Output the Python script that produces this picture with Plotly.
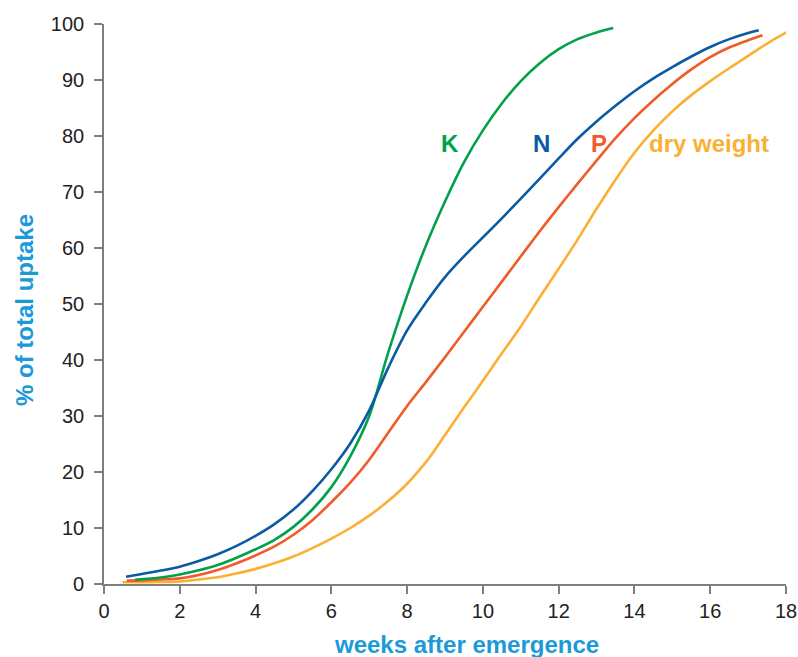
import plotly.graph_objects as go

# ---- data ----
n_x = [0.58, 1.0, 1.5, 2.0, 2.5, 3.0, 3.5, 4.0, 4.5, 5.0, 5.5, 6.0, 6.5, 7.0, 7.5, 8.0, 8.5, 9.0, 9.5, 10.0,
       10.5, 11.0, 11.5, 12.0, 12.5, 13.0, 13.5, 14.0, 14.5, 15.0, 15.5, 16.0, 16.5, 17.0, 17.28]
n_y = [1.3, 1.8, 2.4, 3.1, 4.1, 5.3, 6.8, 8.6, 10.7, 13.3, 16.6, 20.5, 25.1, 31.0, 38.6, 45.3, 50.3, 54.8, 58.5, 61.9,
       65.3, 68.8, 72.4, 76.0, 79.5, 82.6, 85.4, 88.0, 90.3, 92.3, 94.2, 95.9, 97.3, 98.4, 98.9]

k_x = [0.82, 1.5, 2.0, 2.5, 3.0, 3.5, 4.0, 4.5, 5.0, 5.5, 6.0, 6.5, 7.0, 7.5, 8.0, 8.5, 9.0, 9.5, 10.0,
       10.5, 11.0, 11.5, 12.0, 12.5, 13.0, 13.44]
k_y = [0.75, 1.15, 1.7, 2.45, 3.4, 4.7, 6.2, 7.9, 10.2, 13.3, 17.3, 22.8, 30.0, 41.3, 51.5, 60.5, 68.3, 75.3, 81.0,
       85.8, 89.8, 93.0, 95.5, 97.3, 98.5, 99.3]

p_x = [0.6, 1.0, 1.5, 2.0, 2.5, 3.0, 3.5, 4.0, 4.5, 5.0, 5.5, 6.0, 6.5, 7.0, 7.5, 8.0, 8.5, 9.0, 9.5, 10.0,
       10.5, 11.0, 11.5, 12.0, 12.5, 13.0, 13.5, 14.0, 14.5, 15.0, 15.5, 16.0, 16.5, 17.0, 17.38]
p_y = [0.6, 0.65, 0.8, 1.0, 1.6, 2.5, 3.7, 5.1, 6.7, 8.8, 11.4, 14.6, 18.1, 22.2, 27.0, 31.8, 36.1, 40.5, 45.0, 49.5,
       54.0, 58.5, 63.0, 67.3, 71.5, 75.6, 79.6, 83.2, 86.4, 89.3, 91.9, 94.1, 95.8, 97.1, 98.0]

dw_x = [0.49, 1.0, 1.5, 2.0, 2.5, 3.0, 3.5, 4.0, 4.5, 5.0, 5.5, 6.0, 6.5, 7.0, 7.5, 8.0, 8.5, 9.0, 9.5, 10.0,
        10.5, 11.0, 11.5, 12.0, 12.5, 13.0, 13.5, 14.0, 14.5, 15.0, 15.5, 16.0, 16.5, 17.0, 17.5, 18.01]
dw_y = [0.3, 0.3, 0.35, 0.45, 0.8, 1.2, 1.9, 2.7, 3.7, 4.9, 6.4, 8.1, 10.0, 12.2, 14.8, 17.9, 21.8, 26.6, 31.5, 36.3,
        41.2, 46.0, 51.2, 56.3, 61.5, 67.0, 72.2, 77.0, 81.0, 84.4, 87.3, 89.8, 92.1, 94.3, 96.5, 98.5]

series_names = ["K", "N", "P", "dry weight"]
label_x = [9.14, 11.55, 13.07, 15.96]
label_y = [78.7, 78.7, 78.7, 78.7]

x_ticks = [0, 2, 4, 6, 8, 10, 12, 14, 16, 18]
y_ticks = [0, 10, 20, 30, 40, 50, 60, 70, 80, 90, 100]

x_title = "weeks after emergence"
y_title = "% of total uptake"

colors = {"K": "#00A14B", "N": "#0A5AA5", "P": "#F15A29", "dry weight": "#FBB034"}
title_color = "#1A9AD7"
font_family = "Liberation Sans, Arial, Helvetica, sans-serif"

fig = go.Figure()
for name, xs, ys in [("dry weight", dw_x, dw_y), ("P", p_x, p_y), ("K", k_x, k_y), ("N", n_x, n_y)]:
    fig.add_trace(go.Scatter(
        x=xs, y=ys, mode="lines", name=name,
        line=dict(color=colors[name], width=2.6, shape="spline", smoothing=0.9),
        cliponaxis=False, showlegend=False,
    ))

annotations = []
for name, lx, ly in zip(series_names, label_x, label_y):
    annotations.append(dict(x=lx, y=ly, xref="x", yref="y", text=f"<b>{name}</b>",
                            showarrow=False, xanchor="center", yanchor="middle",
                            font=dict(family=font_family, size=24, color=colors[name])))

# plot area in pixels: left 104, right 786, top 24, bottom 584
PW, PH = 682, 560
annotations.append(dict(x=(466 - 104) / PW, y=-(644 - 584) / PH, xref="paper", yref="paper",
                        text=f"<b>{x_title}</b>", showarrow=False,
                        xanchor="center", yanchor="middle",
                        font=dict(family=font_family, size=24, color=title_color)))
annotations.append(dict(x=-(104 - 24) / PW, y=(584 - 310) / PH, xref="paper", yref="paper",
                        text=f"<b>{y_title}</b>", showarrow=False, textangle=-90,
                        xanchor="center", yanchor="middle",
                        font=dict(family=font_family, size=24, color=title_color)))

axis_common = dict(
    showgrid=False, zeroline=False, showline=True, linecolor="#808080", linewidth=1.6,
    ticks="outside", ticklen=8, tickwidth=1.6, tickcolor="#808080",
    tickfont=dict(family=font_family, size=20, color="#222222"),
    automargin=False,
)

fig.update_layout(
    template="none",
    width=798, height=657,
    margin=dict(l=104, r=12, t=24, b=73, autoexpand=False),
    paper_bgcolor="white", plot_bgcolor="white",
    xaxis=dict(range=[0, 18], tickvals=x_ticks, ticktext=[str(v) for v in x_ticks], **axis_common),
    yaxis=dict(range=[0, 100], tickvals=y_ticks, ticktext=[str(v) for v in y_ticks],
               ticklabelstandoff=6, **axis_common),
    annotations=annotations,
)

fig.write_html("out.html", config={"displayModeBar": False},
               post_script="document.body.style.margin='0px';document.body.style.overflow='hidden';")
